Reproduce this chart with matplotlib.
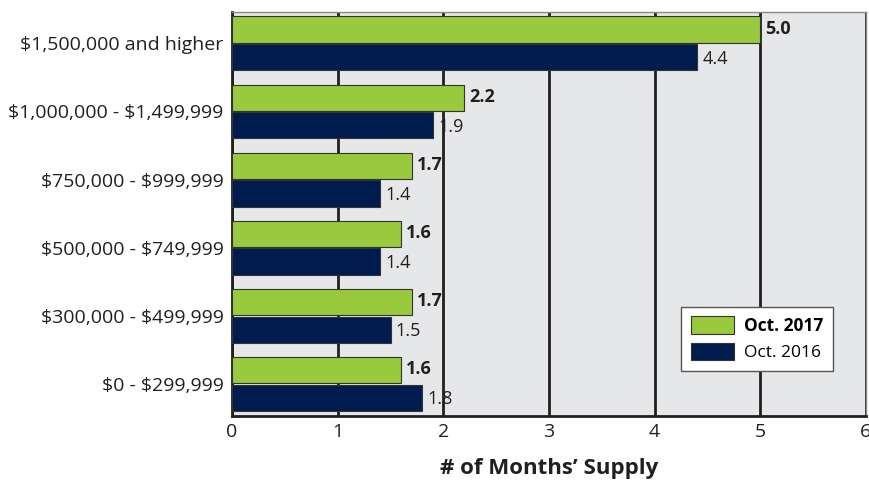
import matplotlib
matplotlib.use('Agg')
import matplotlib.pyplot as plt
import numpy as np

categories = ['$1,500,000 and higher', '$1,000,000 - $1,499,999', '$750,000 - $999,999',
              '$500,000 - $749,999', '$300,000 - $499,999', '$0 - $299,999']
oct_2017 = [5.0, 2.2, 1.7, 1.6, 1.7, 1.6]
oct_2016 = [4.4, 1.9, 1.4, 1.4, 1.5, 1.8]

green = '#99c93c'
navy = '#001c4e'

plt.rcParams['font.family'] = ['Open Sans', 'DejaVu Sans']

fig = plt.figure(figsize=(8.69, 4.82), dpi=100)
ax = fig.add_axes([0.267, 0.137, 0.7295, 0.838])
ax.set_facecolor('#e6e7e8')

y = np.arange(len(categories))[::-1]
h = 0.385
ax.barh(y + h / 2 + 0.01, oct_2017, height=h, color=green, edgecolor='#333333',
        linewidth=0.8, label='Oct. 2017', zorder=3)
ax.barh(y - h / 2 - 0.01, oct_2016, height=h, color=navy, edgecolor='#333333',
        linewidth=0.8, label='Oct. 2016', zorder=3)

for yy, v in zip(y, oct_2017):
    ax.text(v + 0.05, yy + h / 2 + 0.02, f'{v:.1f}', va='center', ha='left', fontsize=13,
            fontweight='bold', color='#231f20', zorder=4)
for yy, v in zip(y, oct_2016):
    ax.text(v + 0.05, yy - h / 2 - 0.03, f'{v:.1f}', va='center', ha='left', fontsize=13,
            color='#231f20', zorder=4)

ax.set_xlim(0, 6)
ax.set_ylim(-0.47, 5.46)
ax.set_xticks(range(7))
ax.set_yticks(y)
ax.set_yticklabels([c.replace('$', r'\$') for c in categories], fontsize=14, color='#231f20')
ax.tick_params(axis='x', labelsize=14, length=0, pad=5, colors='#231f20')
ax.tick_params(axis='y', length=0, pad=6)
ax.xaxis.grid(True, color='#231f20', linewidth=2, zorder=1)
ax.set_axisbelow(True)

for s in ['top', 'right']:
    ax.spines[s].set_color('#888888')
    ax.spines[s].set_linewidth(1)
for s in ['left', 'bottom']:
    ax.spines[s].set_color('#231f20')
    ax.spines[s].set_linewidth(2)

ax.set_xlabel('# of Months’ Supply', fontsize=16, fontweight='bold', color='#231f20',
              labelpad=12)

leg = ax.legend(loc='lower right', bbox_to_anchor=(0.962, 0.09), fontsize=12.5, frameon=True,
                fancybox=False, edgecolor='#555555', framealpha=1, handlelength=2.5,
                handleheight=1.2, borderpad=0.55, labelspacing=0.45, handletextpad=0.6)
leg.get_frame().set_linewidth(1)
leg.get_texts()[0].set_fontweight('bold')

fig.savefig('out.png', dpi=100)
